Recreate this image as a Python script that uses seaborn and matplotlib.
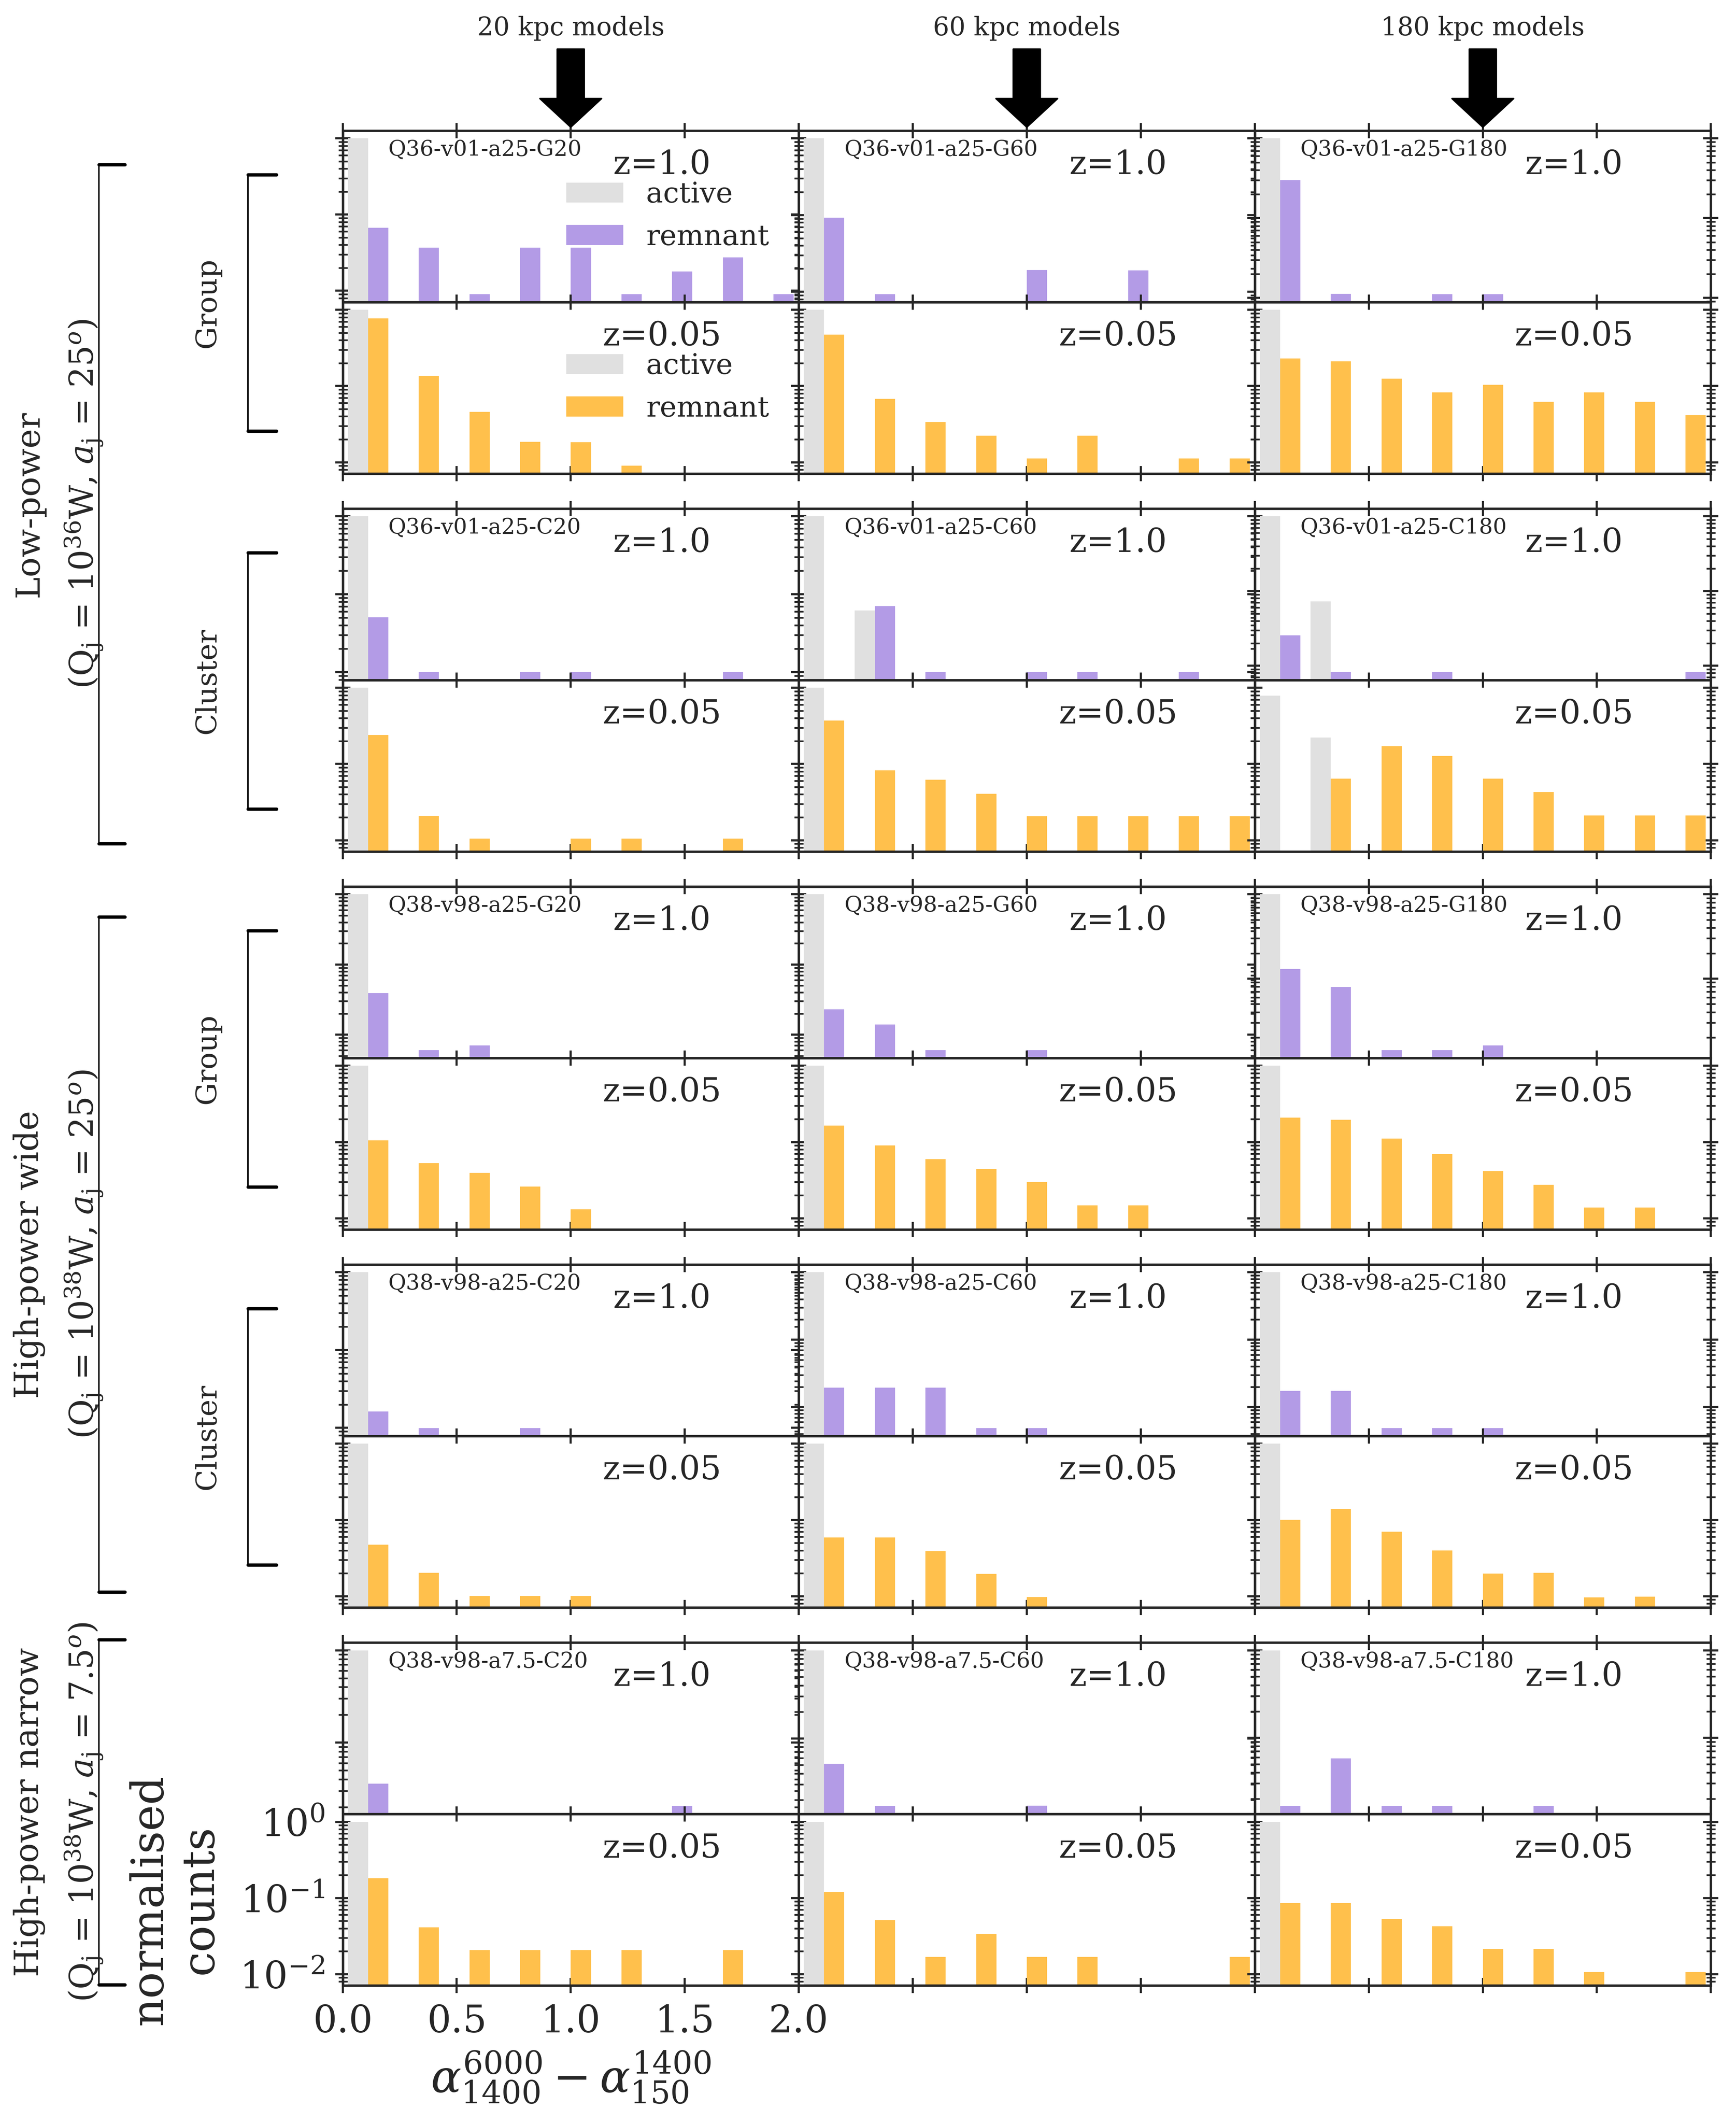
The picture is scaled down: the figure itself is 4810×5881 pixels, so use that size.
import numpy as np
import pandas as pd
import matplotlib
matplotlib.use("Agg")
import matplotlib.pyplot as plt
import seaborn as sns
from matplotlib.lines import Line2D

# 9 bins in alpha(6000/1400) - alpha(1400/150) between 0 and 2
n_bins = 9
bin_range = (0.0, 2.0)
bin_edges = np.linspace(bin_range[0], bin_range[1], n_bins + 1)
bin_centres = 0.5 * (bin_edges[:-1] + bin_edges[1:])

# ---- low-power (Q36) group
names_q36g = ["Q36-v01-a25-G20", "Q36-v01-a25-G60", "Q36-v01-a25-G180"]
act_q36g_hi = [[1.0, 0, 0, 0, 0, 0, 0, 0, 0],
               [1.0, 0, 0, 0, 0, 0, 0, 0, 0],
               [1.0, 0, 0, 0, 0, 0, 0, 0, 0]]
rem_q36g_hi = [[0.0668, 0.0367, 0.0090, 0.0367, 0.0367, 0.0090, 0.0180, 0.0273, 0.0090],
               [0.0923, 0.0093, 0, 0, 0.0192, 0, 0.0191, 0, 0],
               [0.300, 0.0112, 0, 0.0111, 0.0111, 0, 0, 0, 0]]
act_q36g_lo = [[1.0, 0, 0, 0, 0, 0, 0, 0, 0],
               [1.0, 0, 0, 0, 0, 0, 0, 0, 0],
               [1.0, 0, 0, 0, 0, 0, 0, 0, 0]]
rem_q36g_lo = [[0.774, 0.137, 0.0458, 0.0185, 0.0184, 0.0090, 0, 0, 0],
               [0.471, 0.0677, 0.0336, 0.0224, 0.0112, 0.0224, 0, 0.0112, 0.0112],
               [0.229, 0.210, 0.125, 0.0828, 0.104, 0.0624, 0.0828, 0.0624, 0.0414]]

# ---- low-power (Q36) cluster
names_q36c = ["Q36-v01-a25-C20", "Q36-v01-a25-C60", "Q36-v01-a25-C180"]
act_q36c_hi = [[1.0, 0, 0, 0, 0, 0, 0, 0, 0],
               [1.0, 0.0619, 0, 0, 0, 0, 0, 0, 0],
               [1.0, 0.0724, 0, 0, 0, 0, 0, 0, 0]]
rem_q36c_hi = [[0.0508, 0.0100, 0, 0.0100, 0.0100, 0, 0, 0.0100, 0],
               [0, 0.0706, 0.0100, 0, 0.0100, 0.0100, 0, 0.0100, 0],
               [0.0255, 0.0082, 0, 0.0082, 0, 0, 0, 0, 0.0082]]
act_q36c_lo = [[1.0, 0, 0, 0, 0, 0, 0, 0, 0],
               [1.0, 0, 0, 0, 0, 0, 0, 0, 0],
               [0.790, 0.223, 0, 0, 0, 0, 0, 0, 0]]
rem_q36c_lo = [[0.241, 0.0210, 0.0105, 0, 0.0105, 0.0105, 0, 0.0105, 0],
               [0.372, 0.0828, 0.0620, 0.0408, 0.0207, 0.0207, 0.0207, 0.0207, 0.0207],
               [0, 0.0641, 0.171, 0.128, 0.0641, 0.0428, 0.0212, 0.0212, 0.0212]]

# ---- high-power wide (Q38, a25) group
names_q38g = ["Q38-v98-a25-G20", "Q38-v98-a25-G60", "Q38-v98-a25-G180"]
act_q38g_hi = [[1.0, 0, 0, 0, 0, 0, 0, 0, 0],
               [1.0, 0, 0, 0, 0, 0, 0, 0, 0],
               [1.0, 0, 0, 0, 0, 0, 0, 0, 0]]
rem_q38g_hi = [[0.0392, 0.0060, 0.0070, 0, 0, 0, 0, 0, 0],
               [0.0230, 0.0140, 0.0060, 0, 0.0060, 0, 0, 0, 0],
               [0.130, 0.0793, 0.0141, 0.0141, 0.0160, 0, 0, 0, 0]]
act_q38g_lo = [[1.0, 0, 0, 0, 0, 0, 0, 0, 0],
               [1.0, 0, 0, 0, 0, 0, 0, 0, 0],
               [1.0, 0, 0, 0, 0, 0, 0, 0, 0]]
rem_q38g_lo = [[0.1055, 0.0527, 0.0394, 0.0261, 0.0131, 0, 0, 0, 0],
               [0.165, 0.0898, 0.0599, 0.0445, 0.0299, 0.0148, 0.0148, 0, 0],
               [0.210, 0.195, 0.111, 0.0695, 0.0416, 0.0275, 0.0138, 0.0138, 0]]

# ---- high-power wide (Q38, a25) cluster
names_q38c = ["Q38-v98-a25-C20", "Q38-v98-a25-C60", "Q38-v98-a25-C180"]
act_q38c_hi = [[1.0, 0, 0, 0, 0, 0, 0, 0, 0],
               [1.0, 0, 0, 0, 0, 0, 0, 0, 0],
               [1.0, 0, 0, 0, 0, 0, 0, 0, 0]]
rem_q38c_hi = [[0.0162, 0.0099, 0, 0.0099, 0, 0, 0, 0, 0],
               [0.0195, 0.0195, 0.0195, 0.00486, 0.00486, 0, 0, 0, 0],
               [0.0173, 0.0173, 0.00486, 0.00486, 0.00486, 0, 0, 0, 0]]
act_q38c_lo = [[1.0, 0, 0, 0, 0, 0, 0, 0, 0],
               [1.0, 0, 0, 0, 0, 0, 0, 0, 0],
               [1.0, 0, 0, 0, 0, 0, 0, 0, 0]]
rem_q38c_lo = [[0.0472, 0.0203, 0.0101, 0.0101, 0.0101, 0, 0, 0, 0],
               [0.0591, 0.0591, 0.0391, 0.0195, 0.0097, 0, 0, 0, 0],
               [0.1007, 0.140, 0.0704, 0.0399, 0.0199, 0.0202, 0.0096, 0.0099, 0]]

# ---- high-power narrow (Q38, a7.5) cluster
names_q38n = ["Q38-v98-a7.5-C20", "Q38-v98-a7.5-C60", "Q38-v98-a7.5-C180"]
act_q38n_hi = [[1.0, 0, 0, 0, 0, 0, 0, 0, 0],
               [1.0, 0, 0, 0, 0, 0, 0, 0, 0],
               [1.0, 0, 0, 0, 0, 0, 0, 0, 0]]
rem_q38n_hi = [[0.0360, 0, 0, 0, 0, 0, 0.0205, 0, 0],
               [0.0515, 0.0170, 0, 0, 0.0173, 0, 0, 0, 0],
               [0.0165, 0.0579, 0.0165, 0.0165, 0, 0.0165, 0, 0, 0]]
act_q38n_lo = [[1.0, 0, 0, 0, 0, 0, 0, 0, 0],
               [1.0, 0, 0, 0, 0, 0, 0, 0, 0],
               [1.0, 0, 0, 0, 0, 0, 0, 0, 0]]
rem_q38n_lo = [[0.1824, 0.0413, 0.0206, 0.0206, 0.0206, 0.0206, 0, 0.0206, 0],
               [0.120, 0.0513, 0.0169, 0.0340, 0.0169, 0.0169, 0, 0, 0.0169],
               [0.0851, 0.0851, 0.0530, 0.0424, 0.0213, 0.0213, 0.0106, 0, 0.0106]]

col_titles = ["20 kpc models", "60 kpc models", "180 kpc models"]

panel_rows = [
    (names_q36g, act_q36g_hi, rem_q36g_hi, act_q36g_lo, rem_q36g_lo),
    (names_q36c, act_q36c_hi, rem_q36c_hi, act_q36c_lo, rem_q36c_lo),
    (names_q38g, act_q38g_hi, rem_q38g_hi, act_q38g_lo, rem_q38g_lo),
    (names_q38c, act_q38c_hi, rem_q38c_hi, act_q38c_lo, rem_q38c_lo),
    (names_q38n, act_q38n_hi, rem_q38n_hi, act_q38n_lo, rem_q38n_lo),
]

GREY = "#e0e0e0"
PURPLE = "#b39be6"
ORANGE = "#ffc04c"

sns.set_style("ticks")
plt.rcParams["font.family"] = ["DejaVu Serif"]
plt.rcParams["mathtext.fontset"] = "dejavuserif"
plt.rcParams["axes.linewidth"] = 1.6

W, H = 4810, 5881
fig = plt.figure(figsize=((W + 0.3) / 300, (H + 0.3) / 300), dpi=300)

col_left = [949.5, 2213.0, 3476.5]
col_w = 1263.5
group_top = [362, 1409, 2456, 3503, 4550]
row_h = 475


def rect(left_px, top_px):
    return [left_px / W, 1 - (top_px + row_h) / H, col_w / W, row_h / H]


def draw_panel(ax, active, remnant, colour, legend):
    df = pd.DataFrame({
        "alpha": np.tile(bin_centres, 2),
        "count": np.concatenate([active, remnant]),
        "type": ["active"] * n_bins + ["remnant"] * n_bins,
    })
    ax.set_yscale("log")
    sns.histplot(data=df, x="alpha", weights="count", hue="type",
                 hue_order=["active", "remnant"], bins=n_bins,
                 binrange=bin_range, multiple="dodge", shrink=0.8,
                 palette={"active": GREY, "remnant": colour},
                 alpha=1, linewidth=0, legend=legend, ax=ax)
    ax.set_xlim(0, 2)
    ax.set_xticks([0.0, 0.5, 1.0, 1.5, 2.0])
    ax.set_xlabel("")
    ax.set_ylabel("")
    ax.tick_params(which="both", direction="inout", top=True, right=True,
                   labelbottom=False, labelleft=False, labelsize=25)
    ax.tick_params(which="major", length=10, width=1.4, pad=7)
    ax.tick_params(which="minor", length=6, width=1.1)
    if legend:
        sns.move_legend(ax, "upper left", bbox_to_anchor=(0.465, 0.773),
                        title=None, frameon=False, fontsize=19,
                        labelspacing=0.53, borderaxespad=0)


low_ref = None
for g, (names, act_hi, rem_hi, act_lo, rem_lo) in enumerate(panel_rows):
    for c in range(3):
        top = group_top[g]
        ax_hi = fig.add_axes(rect(col_left[c], top))
        ax_lo = fig.add_axes(rect(col_left[c], top + row_h), sharey=low_ref)
        if low_ref is None:
            low_ref = ax_lo

        first = (g == 0 and c == 0)
        draw_panel(ax_hi, act_hi[c], rem_hi[c], PURPLE, first)
        draw_panel(ax_lo, act_lo[c], rem_lo[c], ORANGE, first)

        ax_hi.text(0.10, 0.95, names[c], transform=ax_hi.transAxes,
                   ha="left", va="top", fontsize=14.5)
        ax_hi.text(0.70, 0.893, "z=1.0", transform=ax_hi.transAxes,
                   ha="center", va="top", fontsize=22)
        ax_lo.text(0.70, 0.893, "z=0.05", transform=ax_lo.transAxes,
                   ha="center", va="top", fontsize=22)

        if g == 0:
            trans = ax_hi.get_xaxis_transform()
            ax_hi.annotate("", xy=(1.0, 1.02), xycoords=trans,
                           xytext=(1.0, 1.475), textcoords=trans,
                           annotation_clip=False,
                           arrowprops=dict(facecolor="black", edgecolor="black",
                                           width=18, headwidth=41,
                                           headlength=19, shrink=0))
            ax_hi.text(1.0, 1.597, col_titles[c], transform=trans,
                       ha="center", va="center", fontsize=17)

        if g == 4 and c == 0:
            ax_lo.tick_params(labelbottom=True, labelleft=True)
            ax_lo.set_xlabel(r"$\alpha^{6000}_{1400} - \alpha^{1400}_{150}$",
                             fontsize=30, labelpad=6)
            ax_lo.set_ylabel("normalised\ncounts", fontsize=29.5, labelpad=12)


# brackets and labels on the left
def bracket(x, x_end, top, bottom, lw_bar=1.0, lw_tick=2.2):
    fig.add_artist(Line2D([x / W, x / W], [1 - top / H, 1 - bottom / H],
                          color="black", lw=lw_bar))
    for y in (top, bottom):
        fig.add_artist(Line2D([x / W, x_end / W], [1 - y / H, 1 - y / H],
                              color="black", lw=lw_tick))


outer = [(456, 2337), (2540, 4410), (4542, 5498)]
outer_title = ["Low-power", "High-power wide", "High-power narrow"]
outer_sub = [r"(Q$_{\rm j}$ = 10$^{36}$W, $a_{\rm j}$ = 25$^o$)",
             r"(Q$_{\rm j}$ = 10$^{38}$W, $a_{\rm j}$ = 25$^o$)",
             r"(Q$_{\rm j}$ = 10$^{38}$W, $a_{\rm j}$ = 7.5$^o$)"]
for (t, b), title, sub in zip(outer, outer_title, outer_sub):
    bracket(274, 346, t, b)
    yc = 1 - 0.5 * (t + b) / H
    fig.text(81 / W, yc, title, rotation=90, ha="center", va="center", fontsize=22)
    fig.text(233 / W, yc, sub, rotation=90, ha="center", va="center", fontsize=22)

env_labels = ["Group", "Cluster", "Group", "Cluster"]
for g, lab in enumerate(env_labels):
    t = group_top[g] + 122
    b = group_top[g] + 832
    bracket(687, 766, t, b)
    fig.text(575 / W, 1 - 0.5 * (t + b) / H, lab, rotation=90,
             ha="center", va="center", fontsize=19)

fig.savefig("out.png", dpi=300)
